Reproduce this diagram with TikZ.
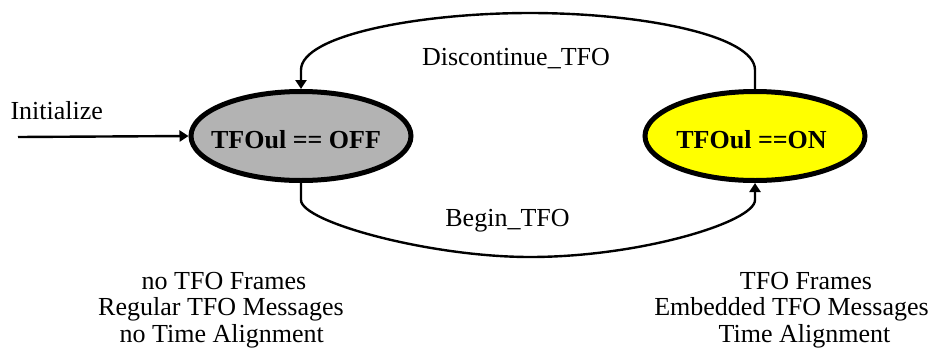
\documentclass[tikz,border=0pt]{standalone}
\usepackage{fontspec}
\setmainfont{Liberation Serif}
\usetikzlibrary{shapes.geometric,arrows.meta}
\definecolor{stategray}{HTML}{B3B3B3}
\definecolor{stateyellow}{HTML}{FFFF00}
\begin{document}
\begin{tikzpicture}[x=1pt,y=-1pt,
  every node/.style={font=\fontsize{26}{26.5}\selectfont, inner sep=0pt},
  state/.style={ellipse, draw=black, line width=5pt, minimum width=220pt, minimum height=89pt},
  statetext/.style={anchor=base, font=\fontsize{26}{26.5}\selectfont\bfseries},
  conn/.style={draw=black, line width=2.4pt, -{Triangle[length=9pt,width=11pt]}},
  lbl/.style={anchor=base}]
\useasboundingbox (0,0) rectangle (937,354);
\node[state, fill=stategray] (off) at (301,136) {};
\node[state, fill=stateyellow] (on) at (755,136) {};
\node[statetext] (offtext) at (296,148) {TFOul == OFF};
\node[statetext] (ontext) at (751.5,148) {TFOul ==ON};
\coordinate (init) at (18,137);
\node[lbl] (initlbl) at (56.7,119.3) {Initialize};
\draw[conn] (init) -- (off.west);
\draw[conn] (on.north) -- (on.north |- 0,70) .. controls (755,35) and (640,13) .. (530,13) .. controls (420,13) and (301,35) .. (off.north |- 0,70) -- (off.north);
\draw[conn] (off.south) -- (off.south |- 0,200) .. controls (301,222) and (430,257) .. (530,257) .. controls (640,257) and (755,222) .. (on.south |- 0,200) -- (on.south);
\node[lbl] (disc) at (516,65) {Discontinue\_TFO};
\node[lbl] (begin) at (507.5,226.7) {Begin\_TFO};
\node[lbl] (l1) at (224,289) {no TFO Frames};
\node[lbl] (l2) at (221,315) {Regular TFO Messages};
\node[lbl] (l3) at (221.7,342) {no Time Alignment};
\node[lbl] (r1) at (806,289) {TFO Frames};
\node[lbl] (r2) at (791.5,315) {Embedded TFO Messages};
\node[lbl] (r3) at (804.5,342) {Time Alignment};
\end{tikzpicture}
\end{document}
